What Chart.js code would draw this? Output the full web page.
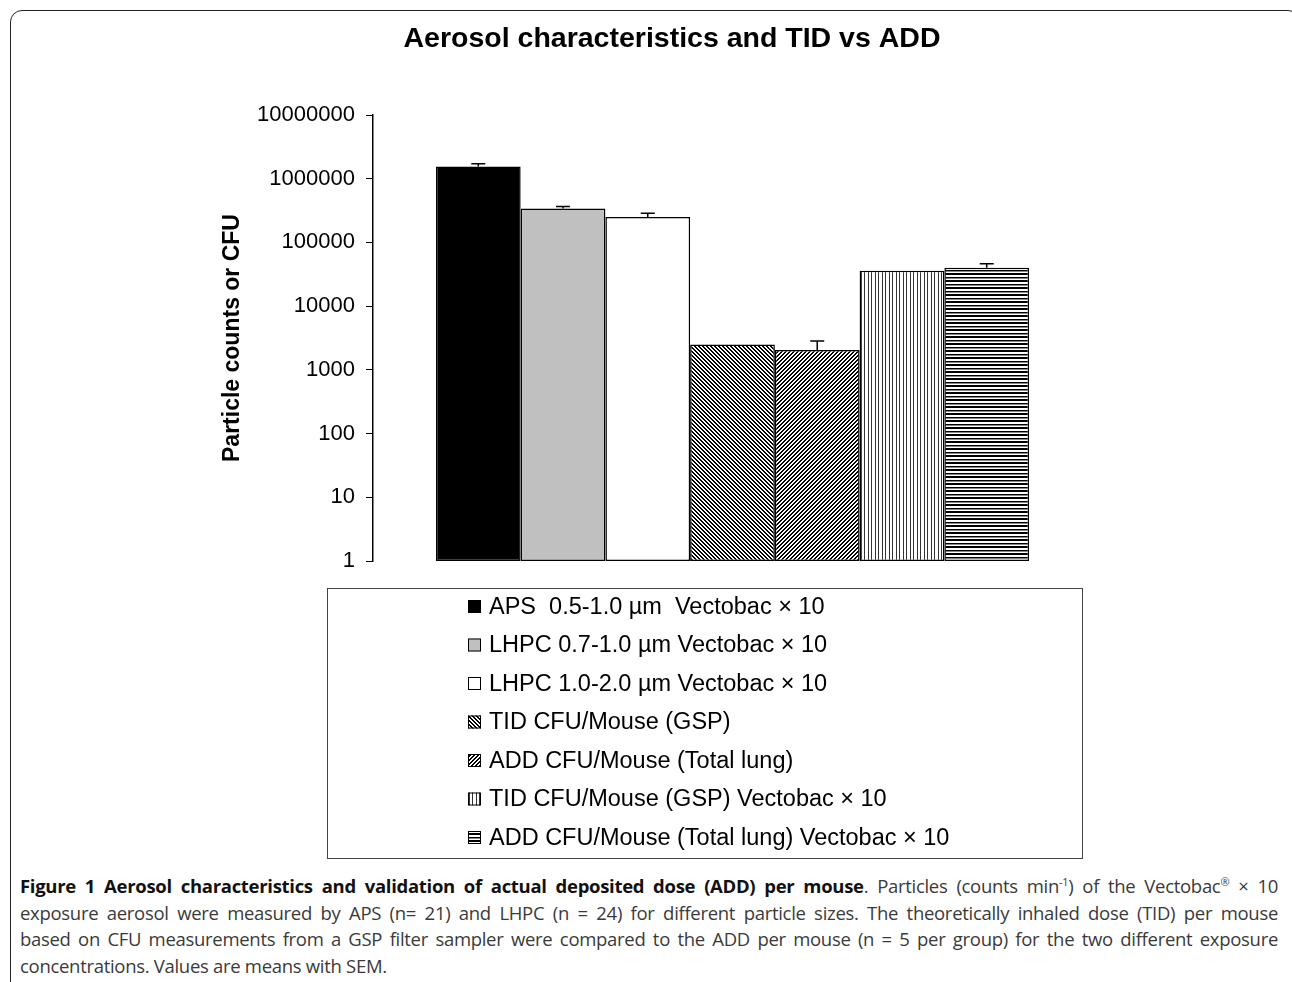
<!DOCTYPE html>
<html>
<head>
<meta charset="utf-8">
<script src="https://cdn.jsdelivr.net/npm/chart.js@4.4.1/dist/chart.umd.min.js"></script>
<style>
  html, body { margin: 0; padding: 0; background: #fff; }
  body { width: 1292px; height: 982px; position: relative; overflow: hidden; }
  #frame {
    position: absolute; left: 10px; top: 10px; width: 1290px; height: 1000px;
    border: 1.5px solid #222; border-radius: 12px; box-sizing: border-box;
  }
  #wrap { position: absolute; left: 0; top: 0; width: 1292px; height: 870px; }
  #caption {
    position: absolute; left: 20px; top: 873px; width: 1258px;
    font-family: "Open Sans", sans-serif; font-size: 18.5px; line-height: 26.5px;
    letter-spacing: -0.3px; color: #3a3a3a;
  }
  #caption div { text-align: justify; text-align-last: justify; white-space: nowrap; }
  #caption div.last { text-align-last: left; }
  #caption b { color: #111; }
  #caption sup { font-size: 11px; line-height: 0; }
</style>
</head>
<body>
<div id="frame"></div>
<div id="wrap"><canvas id="chart"></canvas></div>
<div id="caption">
  <div><b>Figure 1 Aerosol characteristics and validation of actual deposited dose (ADD) per mouse</b>. Particles (counts min<sup>-1</sup>) of the Vectobac<sup>®</sup> × 10</div>
  <div>exposure aerosol were measured by APS (n= 21) and LHPC (n = 24) for different particle sizes. The theoretically inhaled dose (TID) per mouse</div>
  <div>based on CFU measurements from a GSP filter sampler were compared to the ADD per mouse (n = 5 per group) for the two different exposure</div>
  <div class="last">concentrations. Values are means with SEM.</div>
</div>
<script>
// series shown as one group of bars
const seriesLabels = [
  'APS  0.5-1.0 µm  Vectobac × 10',
  'LHPC 0.7-1.0 µm Vectobac × 10',
  'LHPC 1.0-2.0 µm Vectobac × 10',
  'TID CFU/Mouse (GSP)',
  'ADD CFU/Mouse (Total lung)',
  'TID CFU/Mouse (GSP) Vectobac × 10',
  'ADD CFU/Mouse (Total lung) Vectobac × 10'
];
const means = [1550000, 340000, 250000, 2500, 2050, 36000, 40000];
const sem = [160000, 26000, 38000, 0, 780, 0, 6400];
const fills = ['solid-black', 'solid-grey', 'solid-white', 'diag-down', 'diag-up', 'vertical', 'horizontal'];

const tickValues = [1, 10, 100, 1000, 10000, 100000, 1000000, 10000000];
const tickLabels = ['1', '10', '100', '1000', '10000', '100000', '1000000', '10000000'];

const chartTitle = 'Aerosol characteristics and TID vs ADD';
const FONT = '"Liberation Sans", Arial, sans-serif';

// pixel patterns, like the old excel hatch fills
const makePattern = kind => {
  const c = document.createElement('canvas');
  const ctx = c.getContext('2d');
  let size = 4;
  if (kind === 'vertical' || kind === 'horizontal') size = 7;
  c.width = size; c.height = size;
  ctx.fillStyle = '#fff';
  ctx.fillRect(0, 0, size, size);
  for (let y = 0; y < size; y++) {
    for (let x = 0; x < size; x++) {
      let col = null;
      if (kind === 'diag-down' && ((x - y + 8) % 4) < 2) col = '#000';
      if (kind === 'diag-up' && ((x + y) % 4) < 2) col = '#000';
      if (kind === 'vertical' && (x === 0 || x === 3)) col = '#333';
      if (kind === 'horizontal') {
        if (y === 0 || y === 1 || y === 4) col = '#000';
        if (y === 5) col = '#888';
      }
      if (col) { ctx.fillStyle = col; ctx.fillRect(x, y, 1, 1); }
    }
  }
  return ctx.createPattern(c, 'repeat');
};

const fillFor = kind => {
  if (kind === 'solid-black') return '#000';
  if (kind === 'solid-grey') return '#c0c0c0';
  if (kind === 'solid-white') return '#fff';
  return makePattern(kind);
};

// upper error bars with a cap
const errorBars = {
  id: 'errorBars',
  afterDatasetsDraw(chart) {
    const ctx = chart.ctx;
    const y = chart.scales.y;
    ctx.save();
    ctx.strokeStyle = '#000';
    ctx.lineWidth = 1.5;
    chart.data.datasets.forEach((ds, i) => {
      const err = sem[i];
      if (!err) return;
      const bar = chart.getDatasetMeta(i).data[0];
      const top = y.getPixelForValue(means[i] + err);
      ctx.beginPath();
      ctx.moveTo(bar.x, bar.y);
      ctx.lineTo(bar.x, top);
      ctx.moveTo(bar.x - 7, top);
      ctx.lineTo(bar.x + 7, top);
      ctx.stroke();
    });
    ctx.restore();
  }
};

// title sits a bit right of the canvas middle in the figure
const topTitle = {
  id: 'topTitle',
  afterDraw(chart) {
    const ctx = chart.ctx;
    ctx.save();
    ctx.font = 'bold 28.5px ' + FONT;
    ctx.fillStyle = '#000';
    ctx.textAlign = 'center';
    ctx.textBaseline = 'middle';
    ctx.fillText(chartTitle, 672, 39);
    ctx.restore();
  }
};

// boxed legend under the plot, one entry per line
const boxLegend = {
  id: 'boxLegend',
  afterDraw(chart) {
    const ctx = chart.ctx;
    ctx.save();
    ctx.strokeStyle = '#444';
    ctx.lineWidth = 1;
    ctx.strokeRect(327.5, 588.5, 755, 270);
    ctx.font = '23.5px ' + FONT;
    ctx.textBaseline = 'middle';
    chart.data.datasets.forEach((ds, i) => {
      const cy = 606.5 + i * 38.5;
      ctx.fillStyle = ds.backgroundColor;
      ctx.fillRect(468, cy - 6.5, 13, 13);
      ctx.strokeStyle = '#000';
      ctx.strokeRect(468.5, cy - 6, 12, 12);
      ctx.fillStyle = '#000';
      ctx.fillText(ds.label, 489, cy + 1);
    });
    ctx.restore();
  }
};

const datasets = seriesLabels.map((label, i) => ({
  label: label,
  data: [means[i]],
  backgroundColor: fillFor(fills[i]),
  borderColor: '#000',
  borderWidth: 1.5,
  borderSkipped: false
}));

new Chart(document.getElementById('chart'), {
  type: 'bar',
  data: { labels: [''], datasets: datasets },
  options: {
    responsive: true,
    maintainAspectRatio: false,
    animation: false,
    events: [],
    layout: { padding: { left: 219, right: 200, top: 115, bottom: 309 } },
    datasets: { bar: { categoryPercentage: 0.825, barPercentage: 1 } },
    plugins: {
      legend: { display: false },
      tooltip: { enabled: false },
      title: { display: false }
    },
    scales: {
      x: { display: false },
      y: {
        type: 'logarithmic',
        min: 1,
        max: 10000000,
        afterBuildTicks: s => { s.ticks = tickValues.map(v => ({ value: v })); },
        afterFit: s => { s.width = 373 - 219; },
        ticks: {
          color: '#000',
          padding: 11,
          font: { family: FONT, size: 22 },
          callback: (v) => tickLabels[tickValues.indexOf(v)] || ''
        },
        grid: { display: true, drawOnChartArea: false, drawTicks: true, tickLength: 7, color: '#000' },
        border: { display: true, color: '#000', width: 1.5 },
        title: {
          display: true,
          text: 'Particle counts or CFU',
          color: '#000',
          font: { family: FONT, size: 23, weight: 'bold' },
          padding: 0
        }
      }
    }
  },
  plugins: [errorBars, topTitle, boxLegend]
});
</script>
</body>
</html>
